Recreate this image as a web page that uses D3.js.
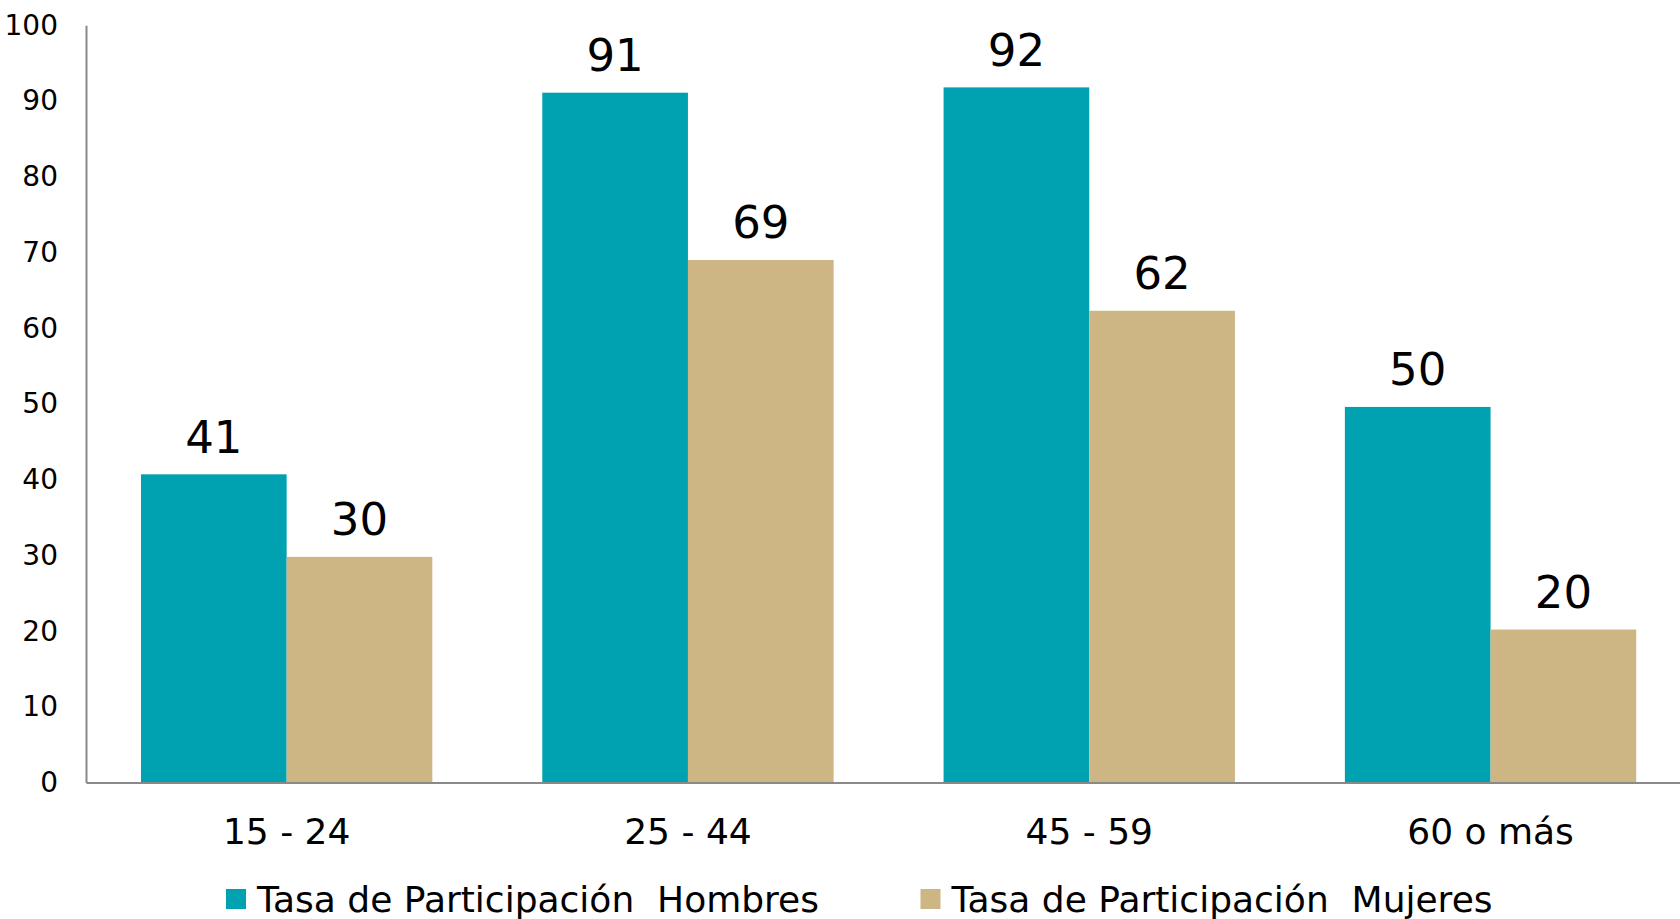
<!DOCTYPE html>
<html>
<head>
<meta charset="utf-8">
<script src="https://cdn.jsdelivr.net/npm/d3@7"></script>
<style>
  html, body { margin: 0; padding: 0; background: #ffffff; }
  svg { display: block; }
  text { font-family: "DejaVu Sans", sans-serif; fill: #000; }
</style>
</head>
<body>
<svg id="chart" width="1680" height="919"></svg>
<script>
const categories = ["15 - 24", "25 - 44", "45 - 59", "60 o más"];
const seriesNames = ["Tasa de Participación  Hombres", "Tasa de Participación  Mujeres"];
const hombres = [40.7, 91.1, 91.8, 49.6];
const mujeres = [29.8, 69.0, 62.3, 20.2];
const yTicks = [0, 10, 20, 30, 40, 50, 60, 70, 80, 90, 100];
const colors = ["#00A2B1", "#CDB584"];

const seriesValues = [hombres, mujeres];
const rows = categories.map((c, i) => ({
  cat: c,
  vals: seriesNames.map((s, j) => ({ key: s, value: seriesValues[j][i], idx: j }))
}));

const svg = d3.select("#chart");

const x = d3.scaleBand().domain(categories).range([86, 1691.2])
  .paddingInner(0.274).paddingOuter(0.137);
const xs = d3.scaleBand().domain(seriesNames).range([0, x.bandwidth()]).padding(0);
const y = d3.scaleLinear().domain([0, 100]).range([782.5, 25.3]);

// bars
const g = svg.append("g");
const groups = g.selectAll("g.grp").data(rows).join("g")
  .attr("class", "grp")
  .attr("transform", d => `translate(${x(d.cat)},0)`);

groups.selectAll("rect").data(d => d.vals).join("rect")
  .attr("x", d => xs(d.key))
  .attr("width", xs.bandwidth())
  .attr("y", d => y(d.value))
  .attr("height", d => y(0) - y(d.value))
  .attr("fill", d => colors[d.idx]);

groups.selectAll("text.val").data(d => d.vals).join("text")
  .attr("class", "val")
  .attr("x", d => xs(d.key) + xs.bandwidth() / 2)
  .attr("y", d => y(d.value) - 21.7)
  .attr("text-anchor", "middle")
  .style("font-size", "45px")
  .text(d => d3.format(".0f")(d.value));

// y axis
const yAxis = svg.append("g")
  .attr("transform", "translate(86,0)")
  .call(d3.axisLeft(y).tickValues(yTicks).tickSize(0).tickPadding(28).tickFormat(d3.format("d")));
yAxis.select(".domain").attr("stroke", "#898989").attr("stroke-width", 2);
yAxis.selectAll("text").style("font-size", "28px").style("font-family", "'DejaVu Sans', sans-serif").attr("fill", "#000");

// x axis
const xAxis = svg.append("g")
  .attr("transform", `translate(0,${y(0)})`)
  .call(d3.axisBottom(x).tickSize(0).tickSizeOuter(0));
xAxis.select(".domain").attr("stroke", "#898989").attr("stroke-width", 2);
xAxis.selectAll("text")
  .attr("dy", null)
  .attr("y", 61.5)
  .style("font-size", "36px")
  .style("font-family", "'DejaVu Sans', sans-serif")
  .attr("fill", "#000");

// legend
const legendX = [226, 920.5];
const leg = svg.append("g");
const li = leg.selectAll("g").data(seriesNames).join("g")
  .attr("transform", (d, i) => `translate(${legendX[i]},889)`);
li.append("rect").attr("width", 20).attr("height", 20).attr("fill", (d, i) => colors[i]);
li.append("text")
  .attr("x", 31)
  .attr("y", 22.5)
  .style("font-size", "36px")
  .style("white-space", "pre")
  .attr("xml:space", "preserve")
  .text(d => d);
</script>
</body>
</html>
